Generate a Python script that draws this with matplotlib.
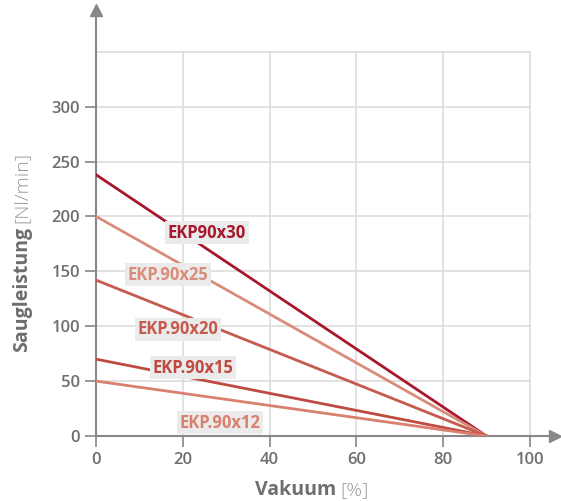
import matplotlib.pyplot as plt

# data
names = ["EKP90x30", "EKP.90x25", "EKP.90x20", "EKP.90x15", "EKP.90x12"]
start_flow = [238, 200, 142, 70, 50]
end_vacuum = [90, 90, 90, 90, 90]
colors = ["#a8182c", "#d98c7a", "#c65a4c", "#be4a40", "#d9806e"]
label_x = [25.6, 16.6, 18.9, 22.4, 28.6]
label_y = [185, 147, 97, 62, 12]
xticks = [0, 20, 40, 60, 80, 100]
yticks = [0, 50, 100, 150, 200, 250, 300]

plt.rcParams['font.family'] = ['Open Sans', 'DejaVu Sans']
gray = "#6e6e6e"

fig = plt.figure(figsize=(5.61, 5.01), dpi=100)
ax = fig.add_axes([96/561, 65/501, 459/561, 426/501])
ax.set_xlim(0, 105.8)
ax.set_ylim(0, 388)

# grid
for gx in xticks[1:]:
    ax.plot([gx, gx], [0, 350], color="#dddddd", lw=1.2, zorder=1)
for gy in yticks[1:] + [350]:
    ax.plot([0, 100], [gy, gy], color="#dddddd", lw=1.2, zorder=1)

# lines
for i in range(len(names)):
    ax.plot([0, end_vacuum[i]], [start_flow[i], 0], color=colors[i], lw=2, zorder=3)
    ax.text(label_x[i], label_y[i], names[i], color=colors[i], fontsize=12, fontweight="bold",
            ha="center", va="center", zorder=4,
            bbox=dict(boxstyle="square,pad=0.15", fc="#ebebeb", ec="none"))

# axes with arrows
for s in ["top", "right"]:
    ax.spines[s].set_visible(False)
ax.spines["left"].set_color("#888888")
ax.spines["bottom"].set_color("#888888")
ax.spines["left"].set_linewidth(1.5)
ax.spines["bottom"].set_linewidth(1.5)
ax.plot(1, 0, ">", color="#888888", transform=ax.transAxes, clip_on=False, ms=8)
ax.plot(0, 1, "^", color="#888888", transform=ax.transAxes, clip_on=False, ms=8)

ax.set_xticks(xticks)
ax.set_yticks(yticks)
ax.tick_params(colors="#888888", labelcolor=gray, labelsize=12, length=8, width=1.2)
for lab in ax.get_xticklabels() + ax.get_yticklabels():
    lab.set_fontweight("semibold")

# axis titles (bold name + light unit)
fig.text(0.599, 0.022, "Vakuum", ha="right", va="center", fontsize=14, fontweight="bold", color=gray)
fig.text(0.607, 0.022, "[%]", ha="left", va="center", fontsize=14, fontweight="light", color="#9a9a9a")
yl = fig.text(0.039, 0.297, "Saugleistung", ha="center", va="bottom", rotation=90, fontsize=14,
              fontweight="bold", color=gray)
fig.canvas.draw()
bb = yl.get_window_extent()
fig.text(0.039, (bb.y1 + 4) / fig.bbox.height, "[Nl/min]", ha="center", va="bottom", rotation=90,
         fontsize=14, fontweight="light", color="#9a9a9a")

plt.savefig("out.png", dpi=100)
